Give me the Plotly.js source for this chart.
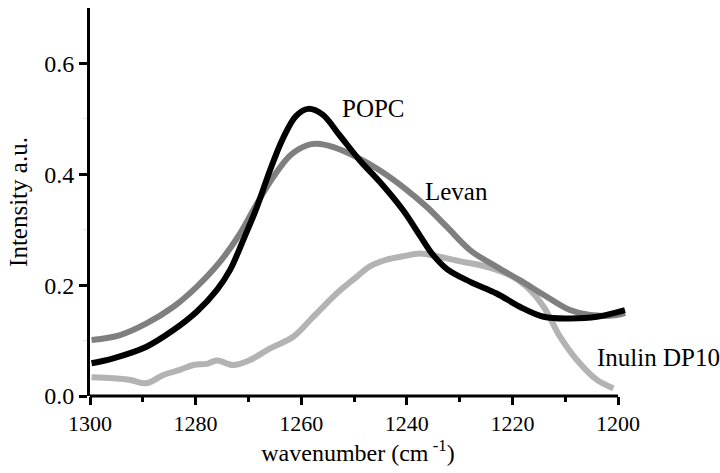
<!DOCTYPE html>
<html>
<head>
<meta charset="utf-8">
<script src="https://cdn.plot.ly/plotly-3.0.1.min.js"></script>
<style>
html,body{margin:0;padding:0;background:#fff;}
#chart{width:720px;height:473px;}
#chart svg text{font-family:"Liberation Serif","Times New Roman",Times,serif !important;}
</style>
</head>
<body>
<div id="chart"></div>
<script>
// Data
const popcX = [1299.7, 1295.6, 1289.3, 1284.2, 1279.8, 1276.0, 1273.5, 1271.0, 1268.5, 1266.0, 1263.5, 1261.0, 1258.7, 1256.0, 1252.7, 1248.9, 1245.1, 1240.7, 1237.5, 1235.0, 1232.4, 1228.0, 1223.0, 1218.6, 1214.1, 1209.1, 1204.0, 1198.7];
const popcY = [0.059, 0.068, 0.089, 0.119, 0.152, 0.191, 0.227, 0.281, 0.338, 0.405, 0.464, 0.505, 0.518, 0.508, 0.470, 0.425, 0.386, 0.335, 0.289, 0.254, 0.229, 0.206, 0.185, 0.161, 0.143, 0.140, 0.143, 0.155];

const levanX = [1299.7, 1294.3, 1289.3, 1284.2, 1279.8, 1275.4, 1271.6, 1268.4, 1265.3, 1262.1, 1259.0, 1257.1, 1253.9, 1249.5, 1245.1, 1240.7, 1236.2, 1232.4, 1228.0, 1223.0, 1218.6, 1213.5, 1209.1, 1205.3, 1200.3, 1198.7];
const levanY = [0.101, 0.110, 0.131, 0.161, 0.197, 0.242, 0.293, 0.347, 0.395, 0.434, 0.452, 0.455, 0.449, 0.431, 0.407, 0.377, 0.341, 0.305, 0.263, 0.233, 0.209, 0.179, 0.155, 0.146, 0.146, 0.150];

const inulinX = [1299.7, 1295.6, 1292.4, 1289.3, 1286.1, 1283.0, 1280.4, 1277.9, 1276.0, 1272.9, 1269.7, 1265.9, 1261.5, 1257.7, 1253.3, 1249.5, 1247.0, 1243.8, 1240.7, 1237.5, 1234.3, 1229.9, 1224.9, 1220.5, 1217.3, 1214.1, 1211.0, 1207.8, 1204.0, 1200.9];
const inulinY = [0.034, 0.032, 0.029, 0.023, 0.038, 0.047, 0.056, 0.058, 0.064, 0.056, 0.065, 0.086, 0.107, 0.143, 0.185, 0.215, 0.234, 0.246, 0.252, 0.257, 0.252, 0.243, 0.233, 0.218, 0.197, 0.161, 0.107, 0.065, 0.029, 0.014];

const xTicks = [1300, 1280, 1260, 1240, 1220, 1200];
const xMinor = [1290, 1270, 1250, 1230, 1210];
const yTicks = [0.0, 0.2, 0.4, 0.6];
const yTickText = ['0.0', '0.2', '0.4', '0.6'];
const yMinor = [0.1, 0.3, 0.5];

const labels = ['POPC', 'Levan', 'Inulin DP10'];
const labelX = [1252.7, 1236.9, 1204.4];
const labelY = [0.519, 0.369, 0.070];

const FAM = '"Liberation Serif", "Times New Roman", Times, serif';

const traces = [
  {x: inulinX, y: inulinY, mode: 'lines', line: {color: '#b3b3b3', width: 6, shape: 'spline', smoothing: 1}, hoverinfo: 'skip'},
  {x: levanX, y: levanY, mode: 'lines', line: {color: '#7f7f7f', width: 6, shape: 'spline', smoothing: 1}, hoverinfo: 'skip'},
  {x: popcX, y: popcY, mode: 'lines', line: {color: '#000000', width: 6, shape: 'spline', smoothing: 1}, hoverinfo: 'skip'}
];

const layout = {
  width: 720, height: 473,
  margin: {l: 90, r: 94, t: 8, b: 77},
  paper_bgcolor: '#ffffff', plot_bgcolor: '#ffffff',
  showlegend: false,
  font: {family: FAM, size: 22, color: '#000000'},
  xaxis: {
    range: [1300, 1198.5],
    showgrid: false, zeroline: false, showline: false,
    tickmode: 'array', tickvals: xTicks, ticktext: xTicks.map(String),
    ticks: 'outside', ticklen: 8, tickwidth: 2.5, tickcolor: '#000000',
    minor: {tickmode: 'array', tickvals: xMinor, ticks: 'outside', ticklen: 5, tickwidth: 2.5, tickcolor: '#000000', showgrid: false},
    tickfont: {family: FAM, size: 22, color: '#000000'},
    title: {text: 'wavenumber (cm<sup> -1</sup>)', font: {family: FAM, size: 24, color: '#000000'}, standoff: 4}
  },
  yaxis: {
    range: [0, 0.7],
    showgrid: false, zeroline: false,
    showline: true, linewidth: 3, linecolor: '#000000',
    tickmode: 'array', tickvals: yTicks, ticktext: yTickText,
    ticks: 'outside', ticklen: 8, tickwidth: 2.5, tickcolor: '#000000',
    minor: {tickmode: 'array', tickvals: yMinor, ticks: 'outside', ticklen: 4, tickwidth: 1, tickcolor: '#e6e6e6', showgrid: false},
    tickfont: {family: FAM, size: 24, color: '#000000'},
    title: {text: 'Intensity a.u.', font: {family: FAM, size: 25, color: '#000000'}, standoff: 10}
  },
  shapes: [
    {type: 'line', xref: 'x', yref: 'paper', x0: 1300, x1: 1200, y0: 0, y1: 0, line: {color: '#000000', width: 3}}
  ],
  annotations: labels.map((t, i) => ({
    text: t, x: labelX[i], y: labelY[i], xref: 'x', yref: 'y',
    xanchor: 'left', yanchor: 'middle', showarrow: false,
    font: {family: FAM, size: 25, color: '#000000'}
  }))
};

Plotly.newPlot('chart', traces, layout, {displayModeBar: false});
</script>
</body>
</html>
